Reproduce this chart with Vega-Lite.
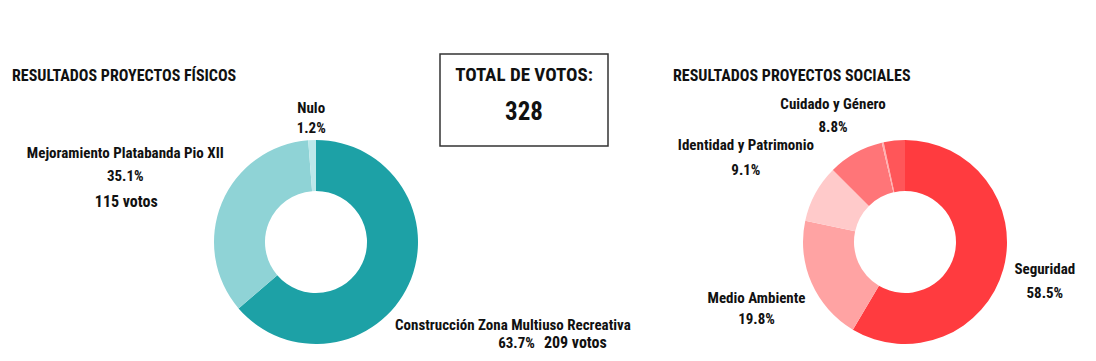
{
  "$schema": "https://vega.github.io/schema/vega-lite/v6.json",
  "padding": {"left": 12, "top": 6, "right": 0, "bottom": 0},
  "background": "white",
  "spacing": 110,
  "bounds": "flush",
  "resolve": {"scale": {"color": "independent", "theta": "independent"}},
  "config": {
    "font": "Roboto Condensed, DejaVu Sans Condensed, sans-serif",
    "view": {"stroke": null},
    "text": {"font": "Roboto Condensed, DejaVu Sans Condensed, sans-serif", "color": "#111111", "fontWeight": "bold", "fontSize": 15, "baseline": "alphabetic"},
    "title": {"font": "Roboto Condensed, DejaVu Sans Condensed, sans-serif", "fontSize": 16, "fontWeight": "bold", "color": "#111111", "anchor": "start", "frame": "group", "baseline": "alphabetic", "offset": 0}
  },
  "hconcat": [
    {
      "width": 28,
      "height": 300,
      "title": {"text": "RESULTADOS PROYECTOS FÍSICOS", "dx": -290, "dy": 82},
      "data": {"values": [
        {"proyecto": "Construcción Zona Multiuso Recreativa", "votos": 209, "pct": "63.7%", "votos_txt": "209 votos", "orden": 1},
        {"proyecto": "Mejoramiento Platabanda Pio XII", "votos": 115, "pct": "35.1%", "votos_txt": "115 votos", "orden": 2},
        {"proyecto": "Nulo", "votos": 4, "pct": "1.2%", "votos_txt": "4 votos", "orden": 3}
      ]},
      "encoding": {
        "theta": {"field": "votos", "type": "quantitative", "stack": true},
        "order": {"field": "orden", "type": "quantitative"}
      },
      "layer": [
        {"mark": {"type": "arc", "outerRadius": 102, "innerRadius": 51, "yOffset": 38},
         "encoding": {"color": {"field": "proyecto", "type": "nominal", "legend": null,
           "scale": {"domain": ["Construcción Zona Multiuso Recreativa", "Mejoramiento Platabanda Pio XII", "Nulo"], "range": ["#1DA1A6", "#8FD3D6", "#BCE8EA"]}}}},
        {"mark": {"type": "text", "radius": 220, "yOffset": 38, "dx": -3, "dy": -4, "align": "center"},
         "encoding": {"text": {"condition": {"test": "datum.orden === 1", "field": "proyecto"}, "value": ""}}},
        {"mark": {"type": "text", "radius": 220, "yOffset": 38, "dx": 19, "dy": 14, "align": "right"},
         "encoding": {"text": {"condition": {"test": "datum.orden === 1", "field": "pct"}, "value": ""}}},
        {"mark": {"type": "text", "radius": 220, "yOffset": 38, "dx": 28, "dy": 14, "align": "left", "fontSize": 16},
         "encoding": {"text": {"condition": {"test": "datum.orden === 1", "field": "votos_txt"}, "value": ""}}},
        {"mark": {"type": "text", "radius": 201, "yOffset": 38, "dx": -5, "dy": -7, "align": "center"},
         "encoding": {"text": {"condition": {"test": "datum.orden === 2", "field": "proyecto"}, "value": ""}}},
        {"mark": {"type": "text", "radius": 201, "yOffset": 38, "dx": -5, "dy": 16, "align": "center"},
         "encoding": {"text": {"condition": {"test": "datum.orden === 2", "field": "pct"}, "value": ""}}},
        {"mark": {"type": "text", "radius": 201, "yOffset": 38, "dx": -4, "dy": 42, "align": "center", "fontSize": 16},
         "encoding": {"text": {"condition": {"test": "datum.orden === 2", "field": "votos_txt"}, "value": ""}}},
        {"mark": {"type": "text", "radius": 125, "yOffset": 38, "dx": 0, "dy": -4, "align": "center"},
         "encoding": {"text": {"condition": {"test": "datum.orden === 3", "field": "proyecto"}, "value": ""}}},
        {"mark": {"type": "text", "radius": 125, "yOffset": 38, "dx": 0, "dy": 16, "align": "center"},
         "encoding": {"text": {"condition": {"test": "datum.orden === 3", "field": "pct"}, "value": ""}}}
      ]
    },
    {
      "width": 168,
      "height": 92,
      "view": {"stroke": "#333333", "strokeWidth": 1.5},
      "data": {"values": [{"titulo": "TOTAL DE VOTOS:", "total": 328}]},
      "layer": [
        {"mark": {"type": "text", "fontSize": 19, "dy": -19, "align": "center"},
         "encoding": {"text": {"field": "titulo", "type": "nominal"}}},
        {"mark": {"type": "text", "fontSize": 25, "dy": 20, "align": "center"},
         "encoding": {"text": {"field": "total", "type": "quantitative"}}}
      ]
    },
    {
      "width": 374,
      "height": 300,
      "title": {"text": "RESULTADOS PROYECTOS SOCIALES", "dx": -45, "dy": 43},
      "data": {"values": [
        {"proyecto": "Seguridad", "votos": 192, "pct": "58.5%", "orden": 1},
        {"proyecto": "Medio Ambiente", "votos": 65, "pct": "19.8%", "orden": 2},
        {"proyecto": "Identidad y Patrimonio", "votos": 30, "pct": "9.1%", "orden": 3},
        {"proyecto": "Cuidado y Género", "votos": 29, "pct": "8.8%", "orden": 4},
        {"proyecto": "Otros", "votos": 1, "pct": "0.3%", "orden": 5},
        {"proyecto": "Nulo", "votos": 11, "pct": "3.4%", "orden": 6}
      ]},
      "encoding": {
        "theta": {"field": "votos", "type": "quantitative", "stack": true},
        "order": {"field": "orden", "type": "quantitative"}
      },
      "layer": [
        {"mark": {"type": "arc", "outerRadius": 102, "innerRadius": 51, "yOffset": 38},
         "encoding": {"color": {"field": "proyecto", "type": "nominal", "legend": null,
           "scale": {"domain": ["Seguridad", "Medio Ambiente", "Identidad y Patrimonio", "Cuidado y Género", "Otros", "Nulo"], "range": ["#FF3B3F", "#FFA3A3", "#FFCACA", "#FF7578", "#FFB0B0", "#FF5659"]}}}},
        {"mark": {"type": "text", "radius": 145, "yOffset": 38, "dx": 0, "dy": -6, "align": "center"},
         "encoding": {"text": {"condition": {"test": "datum.orden === 1", "field": "proyecto"}, "value": ""}}},
        {"mark": {"type": "text", "radius": 145, "yOffset": 38, "dx": 0, "dy": 18, "align": "center"},
         "encoding": {"text": {"condition": {"test": "datum.orden === 1", "field": "pct"}, "value": ""}}},
        {"mark": {"type": "text", "radius": 162, "yOffset": 38, "dx": 0, "dy": -4, "align": "center"},
         "encoding": {"text": {"condition": {"test": "datum.orden === 2", "field": "proyecto"}, "value": ""}}},
        {"mark": {"type": "text", "radius": 162, "yOffset": 38, "dx": 0, "dy": 17, "align": "center"},
         "encoding": {"text": {"condition": {"test": "datum.orden === 2", "field": "pct"}, "value": ""}}},
        {"mark": {"type": "text", "radius": 180, "yOffset": 38, "dx": -1, "dy": -6, "align": "center"},
         "encoding": {"text": {"condition": {"test": "datum.orden === 3", "field": "proyecto"}, "value": ""}}},
        {"mark": {"type": "text", "radius": 180, "yOffset": 38, "dx": -1, "dy": 19, "align": "center"},
         "encoding": {"text": {"condition": {"test": "datum.orden === 3", "field": "pct"}, "value": ""}}},
        {"mark": {"type": "text", "radius": 146, "yOffset": 38, "dx": -1, "dy": -5, "align": "center"},
         "encoding": {"text": {"condition": {"test": "datum.orden === 4", "field": "proyecto"}, "value": ""}}},
        {"mark": {"type": "text", "radius": 146, "yOffset": 38, "dx": -1, "dy": 18, "align": "center"},
         "encoding": {"text": {"condition": {"test": "datum.orden === 4", "field": "pct"}, "value": ""}}}
      ]
    }
  ]
}
